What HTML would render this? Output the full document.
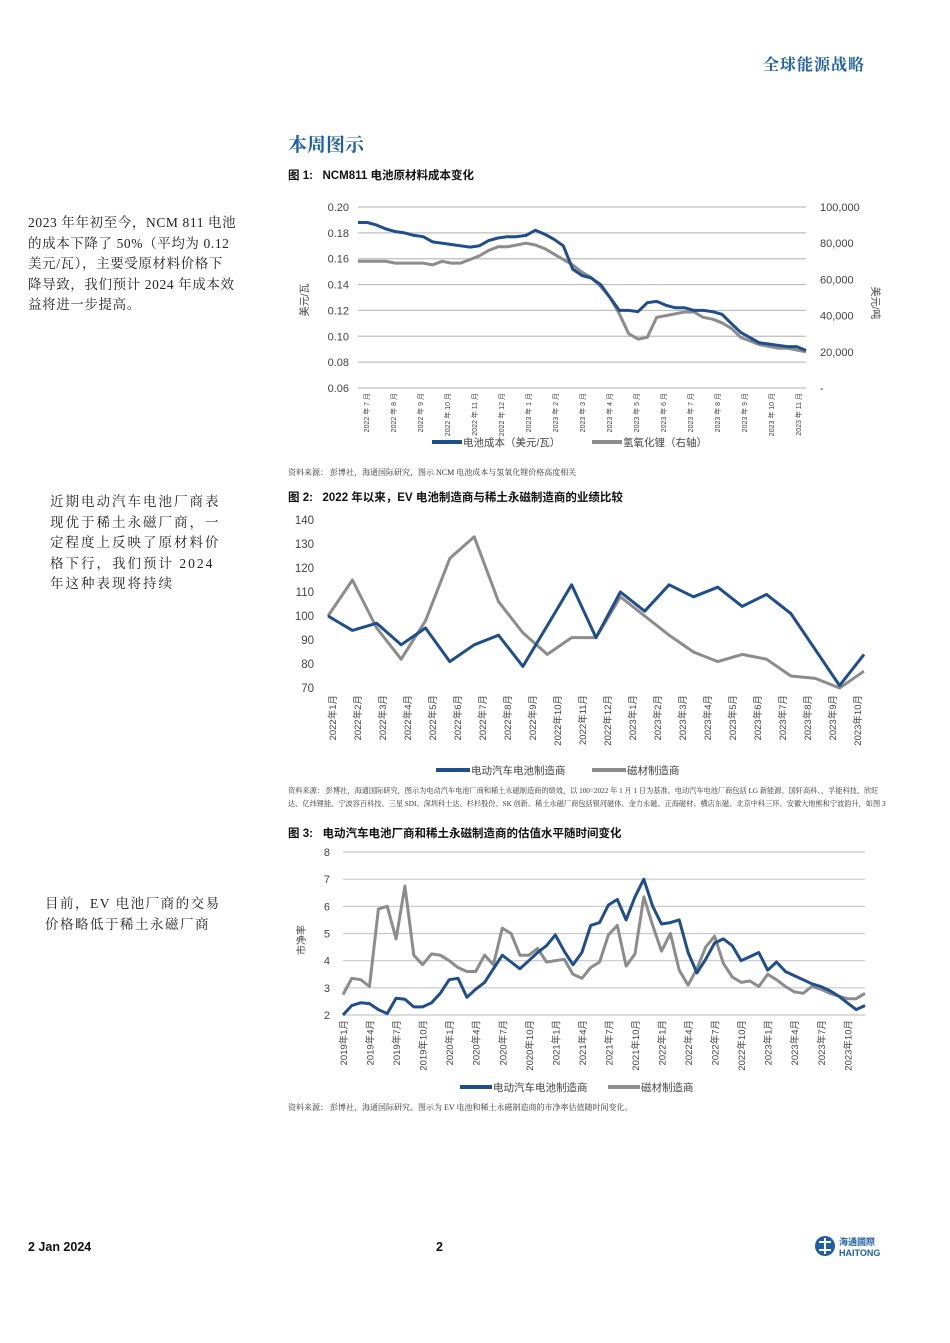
<!DOCTYPE html>
<html><head><meta charset="utf-8">
<style>
body{margin:0;width:950px;height:1343px;position:relative;background:#fff;font-family:"Liberation Sans","Noto Sans CJK SC",sans-serif;color:#111;overflow:hidden}
.a{position:absolute;white-space:nowrap}
.side{position:absolute;font-family:"Liberation Serif","Noto Serif CJK SC",serif;font-size:13.5px;line-height:20.5px;color:#222;white-space:nowrap;letter-spacing:0.8px}
.ft{font-size:11.5px;font-weight:bold}
.src{font-size:8px;color:#333;font-family:"Liberation Serif","Noto Serif CJK SC",serif;line-height:13px}
svg text{font-family:"Liberation Sans","Noto Sans CJK SC",sans-serif}
</style></head><body>
<div class="a" style="left:763px;top:52px;font-size:16px;font-weight:bold;color:#1f5fa6;font-family:'Liberation Sans','Noto Serif CJK SC',serif;letter-spacing:1px">全球能源战略</div>
<div class="a" style="left:288px;top:130px;font-size:19px;font-weight:bold;color:#1f5fa6;font-family:'Liberation Sans','Noto Serif CJK SC',serif">本周图示</div>

<div class="side" style="left:28px;top:213px;letter-spacing:0.6px">2023 年年初至今，NCM 811 电池<br>的成本下降了 50%（平均为 0.12<br>美元/瓦），主要受原材料价格下<br>降导致，我们预计 2024 年成本效<br>益将进一步提高。</div>
<div class="side" style="left:50px;top:492px;letter-spacing:2px">近期电动汽车电池厂商表<br>现优于稀土永磁厂商，一<br>定程度上反映了原材料价<br>格下行，我们预计 2024<br>年这种表现将持续</div>
<div class="side" style="left:45px;top:894px;letter-spacing:1.5px">目前，EV 电池厂商的交易<br>价格略低于稀土永磁厂商</div>

<div class="a ft" style="left:288px;top:167px">图 1:&nbsp;&nbsp; NCM811 电池原材料成本变化</div>
<div class="a ft" style="left:288px;top:489px">图 2:&nbsp;&nbsp; 2022 年以来，EV 电池制造商与稀土永磁制造商的业绩比较</div>
<div class="a ft" style="left:288px;top:825px">图 3:&nbsp;&nbsp; 电动汽车电池厂商和稀土永磁制造商的估值水平随时间变化</div>

<div class="a src" style="left:288px;top:466px">资料来源： 彭博社，海通国际研究，图示 NCM 电池成本与氢氧化锂价格高度相关</div>
<div class="a src" style="left:288px;top:785px;width:600px;white-space:normal;font-size:7.2px;line-height:12.5px">资料来源： 彭博社，海通国际研究，图示为电动汽车电池厂商和稀土永磁制造商的绩效，以 100=2022 年 1 月 1 日为基准。电动汽车电池厂商包括 LG 新能源、国轩高科、、孚能科技、欣旺达、亿纬锂能、宁波容百科技、三星 SDI、深圳科士达、杉杉股份、SK 创新。稀土永磁厂商包括银河磁体、金力永磁、正海磁材、横店东磁、北京中科三环、安徽大地熊和宁波韵升，如图 3</div>
<div class="a src" style="left:288px;top:1101px">资料来源： 彭博社，海通国际研究。图示为 EV 电池和稀土永磁制造商的市净率估值随时间变化。</div>

<div class="a" style="left:28px;top:1240px;font-size:12.5px;font-weight:bold">2 Jan 2024</div>
<div class="a" style="left:436px;top:1240px;font-size:12.5px;font-weight:bold">2</div>
<div class="a" style="left:814px;top:1234px;width:70px;height:26px">
<svg width="70" height="26"><circle cx="11" cy="12" r="10" fill="#1f5fa6"/><path d="M5 8 h12 M5 16 h12 M11 4 v16" stroke="#fff" stroke-width="2"/><text x="25" y="11" font-size="9" fill="#1f5fa6" font-weight="bold">海通國際</text><text x="25" y="22" font-size="9" fill="#1f5fa6" font-weight="bold">HAITONG</text></svg></div>

<svg id="c" width="950" height="1343" style="position:absolute;left:0;top:0"></svg>

<script>
// ---------- Chart 1 data ----------
const c1Labels=["2022 年 7 月","2022 年 8 月","2022 年 9 月","2022 年 10 月","2022 年 11 月","2022 年 12 月","2023 年 1 月","2023 年 2 月","2023 年 3 月","2023 年 4 月","2023 年 5 月","2023 年 6 月","2023 年 7 月","2023 年 8 月","2023 年 9 月","2023 年 10 月","2023 年 11 月"];
const c1LeftTicks=[0.06,0.08,0.10,0.12,0.14,0.16,0.18,0.20];
const c1RightTicks=["-","20,000","40,000","60,000","80,000","100,000"];
const c1Cost=[.188,.188,.186,.183,.181,.180,.178,.177,.173,.172,.171,.170,.169,.170,.174,.176,.177,.177,.178,.182,.179,.175,.170,.152,.147,.145,.140,.130,.120,.120,.119,.126,.127,.124,.122,.122,.120,.120,.119,.117,.110,.103,.099,.095,.094,.093,.092,.092,.089];
const c1Lithium=[70,70,70,70,69,69,69,69,68,70,69,69,71,73,76,78,78,79,80,79,77,74,71,68,64,61,56,50,41,30,27,28,39,40,41,42,42,39,38,36,33,28,26,24,23,22,22,21,20];
// ---------- Chart 2 data ----------
const c2Labels=["2022年1月","2022年2月","2022年3月","2022年4月","2022年5月","2022年6月","2022年7月","2022年8月","2022年9月","2022年10月","2022年11月","2022年12月","2023年1月","2023年2月","2023年3月","2023年4月","2023年5月","2023年6月","2023年7月","2023年8月","2023年9月","2023年10月"];
const c2Ticks=[70,80,90,100,110,120,130,140];
const c2Battery=[100,94,97,88,95,81,88,92,79,96,113,91,110,102,113,108,112,104,109,101,86,71,84];
const c2Magnet=[100,115,95,82,98,124,133,106,93,84,91,91,108,100,92,85,81,84,82,75,74,70,77];
// ---------- Chart 3 data ----------
const c3Labels=["2019年1月","2019年4月","2019年7月","2019年10月","2020年1月","2020年4月","2020年7月","2020年10月","2021年1月","2021年4月","2021年7月","2021年10月","2022年1月","2022年4月","2022年7月","2022年10月","2023年1月","2023年4月","2023年7月","2023年10月"];
const c3Ticks=[2,3,4,5,6,7,8];
const c3Battery=[2.0,2.35,2.45,2.42,2.2,2.05,2.62,2.58,2.3,2.3,2.45,2.8,3.3,3.35,2.65,2.95,3.2,3.7,4.2,3.95,3.7,4.0,4.3,4.55,4.95,4.35,3.85,4.3,5.3,5.4,6.05,6.25,5.5,6.35,7.0,6.0,5.35,5.4,5.5,4.3,3.55,4.05,4.65,4.8,4.55,4.0,4.15,4.3,3.65,3.95,3.6,3.45,3.3,3.15,3.05,2.9,2.7,2.45,2.2,2.35];
const c3Magnet=[2.75,3.35,3.3,3.05,5.9,6.0,4.8,6.75,4.2,3.85,4.25,4.2,4.0,3.75,3.6,3.6,4.2,3.85,5.2,5.0,4.2,4.2,4.45,3.95,4.0,4.05,3.5,3.35,3.75,3.95,4.95,5.3,3.8,4.25,6.35,5.3,4.35,5.0,3.65,3.1,3.7,4.5,4.9,3.9,3.4,3.2,3.25,3.05,3.5,3.3,3.05,2.85,2.8,3.05,2.95,2.8,2.7,2.6,2.6,2.8];

const NS="http://www.w3.org/2000/svg",svg=document.getElementById('c');
const BLUE="#1f4e8c",GRAY="#8c8c8c";
function mk(tag,at,parent){const e=document.createElementNS(NS,tag);for(const k in at)e.setAttribute(k,at[k]);(parent||svg).appendChild(e);return e;}
function txt(x,y,s,size,anchor,extra){const t=mk('text',Object.assign({x:x,y:y,'font-size':size,fill:'#444','text-anchor':anchor||'start'},extra||{}));t.textContent=s;return t;}
function lin(v,d0,d1,r0,r1){return r0+(v-d0)/(d1-d0)*(r1-r0);}
function line(vals,xf,yf,color,name){const p=vals.map((v,i)=>(i?'L':'M')+xf(i).toFixed(1)+' '+yf(v).toFixed(1)).join(' ');const e=mk('path',{d:p,fill:'none',stroke:color,'stroke-width':3,'stroke-linejoin':'round'});

return e;}
function rotLabel(x,y,s,size){txt(x,y,s,size,'end',{transform:`rotate(-90 ${x} ${y})`});}

// Chart 1
(function(){
 const X0=358,X1=806,Y0=388,Y1=207;
 const yL=v=>lin(v,0.06,0.20,Y0,Y1), yR=v=>lin(v,0,100,Y0,Y1);
 c1LeftTicks.forEach(v=>{mk('line',{x1:X0,x2:X1,y1:yL(v),y2:yL(v),stroke:'#bdbdbd','stroke-width':1.2});txt(349,yL(v)+4,v.toFixed(2),11,'end');});
 c1RightTicks.forEach((s,i)=>txt(820,yR(i*20)+4,s,11,'start'));
 const n=c1Cost.length, xf=i=>lin(i,0,n-1,X0,X1);
 c1Labels.forEach((s,i)=>rotLabel(lin(i,0,c1Labels.length-1,X0+8,X1-8)+3,393,s,7));
 line(c1Lithium,xf,v=>yR(v),GRAY,'lithium-hydroxide-line');
 line(c1Cost,xf,yL,BLUE,'battery-cost-line');
 txt(308,300,'美元/瓦',10,'middle',{transform:'rotate(-90 308 300)'});
 txt(872,303,'美元/吨',10,'middle',{transform:'rotate(90 872 303)'});
 mk('line',{x1:432,x2:462,y1:442,y2:442,stroke:BLUE,'stroke-width':4});txt(463,446,'电池成本（美元/瓦）',10.5);
 mk('line',{x1:592,x2:622,y1:442,y2:442,stroke:GRAY,'stroke-width':4});txt(623,446,'氢氧化锂（右轴）',10.5);
})();

// Chart 2
(function(){
 const X0=328,X1=864,Y0=688,Y1=520;
 const y=v=>lin(v,70,140,Y0,Y1);
 c2Ticks.forEach(v=>txt(314,y(v)+4,String(v),11.5,'end'));
 const n=c2Battery.length, xf=i=>lin(i,0,n-1,X0,X1);
 c2Labels.forEach((s,i)=>rotLabel(336+i*25,695,s,9.5));
 line(c2Magnet,xf,y,GRAY,'magnet-maker-line');
 line(c2Battery,xf,y,BLUE,'ev-battery-maker-line');
 mk('line',{x1:436,x2:470,y1:770,y2:770,stroke:BLUE,'stroke-width':4});txt(471,774,'电动汽车电池制造商',10.5);
 mk('line',{x1:592,x2:626,y1:770,y2:770,stroke:GRAY,'stroke-width':4});txt(627,774,'磁材制造商',10.5);
})();

// Chart 3
(function(){
 const X0=343,X1=865,Y0=1015,Y1=852;
 const y=v=>lin(v,2,8,Y0,Y1);
 c3Ticks.forEach(v=>{mk('line',{x1:X0,x2:X1,y1:y(v),y2:y(v),stroke:'#c8c8c8','stroke-width':1.2});txt(330,y(v)+4,String(v),11,'end');});
 const n=c3Battery.length, xf=i=>lin(i,0,n-1,X0,X1);
 c3Labels.forEach((s,i)=>rotLabel(xf(i*3)+4,1020,s,9.5));
 line(c3Magnet,xf,y,GRAY,'magnet-maker-pb-line');
 line(c3Battery,xf,y,BLUE,'ev-battery-maker-pb-line');
 txt(305,940,'市净率',10,'middle',{transform:'rotate(-90 305 940)'});
 mk('line',{x1:460,x2:492,y1:1087,y2:1087,stroke:BLUE,'stroke-width':4});txt(493,1091,'电动汽车电池制造商',10.5);
 mk('line',{x1:608,x2:640,y1:1087,y2:1087,stroke:GRAY,'stroke-width':4});txt(641,1091,'磁材制造商',10.5);
})();
</script>
</body></html>
